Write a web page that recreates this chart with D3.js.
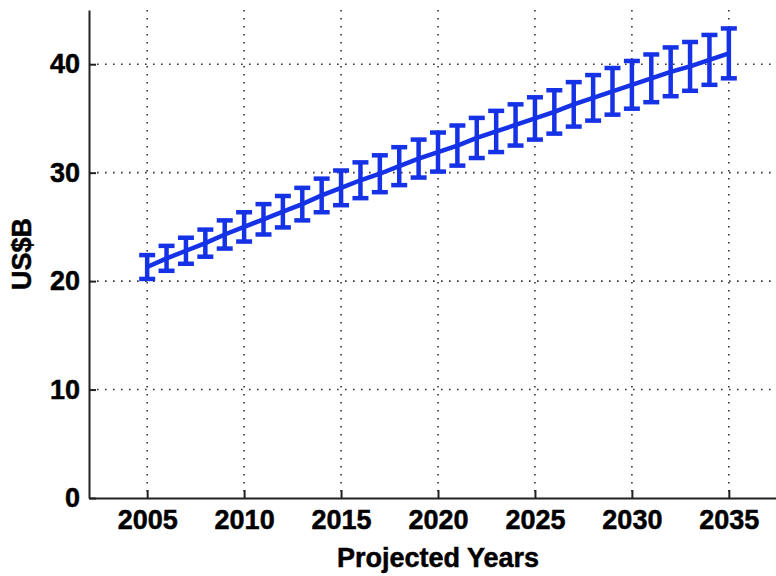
<!DOCTYPE html>
<html>
<head>
<meta charset="utf-8">
<script src="https://cdn.jsdelivr.net/npm/d3@7"></script>
<style>
  body { margin: 0; background: #fff; }
  text { font-family: 'Liberation Sans', Arial, Helvetica, sans-serif; font-weight: bold; fill: #000; stroke: #000; stroke-width: 0.5px; }
</style>
</head>
<body>
<svg id="chart" width="776" height="576"></svg>
<script>
// projected values
const years = [2005, 2006, 2007, 2008, 2009, 2010, 2011, 2012, 2013, 2014, 2015,
  2016, 2017, 2018, 2019, 2020, 2021, 2022, 2023, 2024, 2025,
  2026, 2027, 2028, 2029, 2030, 2031, 2032, 2033, 2034, 2035]
const means = [21.3, 22.1, 22.8, 23.5, 24.3, 25.0, 25.7, 26.4, 27.1, 27.9, 28.6,
  29.3, 29.9, 30.6, 31.3, 31.9, 32.5, 33.2, 33.8, 34.4, 35.0,
  35.6, 36.3, 36.9, 37.5, 38.1, 38.7, 39.3, 39.8, 40.4, 41.0]
const errs = [1.1, 1.15, 1.2, 1.25, 1.3, 1.35, 1.4, 1.45, 1.5, 1.55, 1.6,
  1.65, 1.7, 1.75, 1.75, 1.8, 1.85, 1.85, 1.9, 1.9, 1.95,
  2.0, 2.05, 2.1, 2.15, 2.2, 2.2, 2.25, 2.25, 2.3, 2.3]
const xTicks = [2005, 2010, 2015, 2020, 2025, 2030, 2035]
const yTicks = [0, 10, 20, 30, 40]

const data = years.map((y, i) => ({ year: y, mean: means[i], err: errs[i] }))

const svg = d3.select('#chart')
const plotL = 89, plotR = 787, plotT = 10, plotB = 498
const blue = '#1632e6'

let xScale = d3.scaleLinear().domain([2002, 2038]).range([plotL, plotR])
let yScale = d3.scaleLinear().domain([0, 45]).range([plotB, plotT])

// dotted grid
svg.append('g').selectAll('line').data(xTicks).enter()
  .append('line')
  .attr('x1', d => xScale(d)).attr('x2', d => xScale(d))
  .attr('y1', plotT).attr('y2', plotB)
  .attr('stroke', '#333').attr('stroke-width', 1.6)
  .attr('stroke-dasharray', '1.6,6.4')
svg.append('g').selectAll('line').data(yTicks.filter(d => d > 0)).enter()
  .append('line')
  .attr('x1', plotL).attr('x2', plotR)
  .attr('y1', d => yScale(d)).attr('y2', d => yScale(d))
  .attr('stroke', '#333').attr('stroke-width', 1.6)
  .attr('stroke-dasharray', '1.6,6.4')

// axes, ticks pointing inward
let xAxis = d3.axisBottom(xScale).tickValues(xTicks).tickFormat(d3.format('d'))
  .tickSizeInner(-8).tickSizeOuter(0).tickPadding(16)
let yAxis = d3.axisLeft(yScale).tickValues(yTicks)
  .tickSizeInner(-7).tickSizeOuter(0).tickPadding(16)

let gx = svg.append('g').attr('transform', `translate(0, ${plotB})`).call(xAxis)
let gy = svg.append('g').attr('transform', `translate(${plotL}, 0)`).call(yAxis)
gx.selectAll('text').attr('font-size', 27).attr('dy', '0.71em').attr('y', 12)
gy.selectAll('text').attr('font-size', 27).attr('x', -9)
svg.selectAll('.domain').attr('stroke', '#222').attr('stroke-width', 2)
svg.selectAll('.tick line').attr('stroke', '#222').attr('stroke-width', 2)
svg.selectAll('.tick text').attr('font-family', null).attr('fill', '#000')

// error bars
let bars = svg.append('g').attr('stroke', blue).attr('stroke-width', 4.5)
bars.selectAll('line.v').data(data).enter()
  .append('line').attr('class', 'v')
  .attr('x1', d => xScale(d.year)).attr('x2', d => xScale(d.year))
  .attr('y1', d => yScale(d.mean - d.err)).attr('y2', d => yScale(d.mean + d.err))
bars.selectAll('line.lo').data(data).enter()
  .append('line').attr('class', 'lo')
  .attr('x1', d => xScale(d.year) - 8).attr('x2', d => xScale(d.year) + 8)
  .attr('y1', d => yScale(d.mean - d.err)).attr('y2', d => yScale(d.mean - d.err))
bars.selectAll('line.hi').data(data).enter()
  .append('line').attr('class', 'hi')
  .attr('x1', d => xScale(d.year) - 8).attr('x2', d => xScale(d.year) + 8)
  .attr('y1', d => yScale(d.mean + d.err)).attr('y2', d => yScale(d.mean + d.err))

// mean line
svg.append('path').datum(data)
  .attr('fill', 'none').attr('stroke', blue).attr('stroke-width', 4.5)
  .attr('d', d3.line().x(d => xScale(d.year)).y(d => yScale(d.mean)))

// axis titles
svg.append('text').attr('x', (plotL + plotR) / 2).attr('y', 567)
  .attr('text-anchor', 'middle').attr('font-size', 27).text('Projected Years')
svg.append('text').attr('transform', `translate(31, ${(plotT + plotB) / 2}) rotate(-90)`)
  .attr('text-anchor', 'middle').attr('font-size', 27).text('US$B')
</script>
</body>
</html>
